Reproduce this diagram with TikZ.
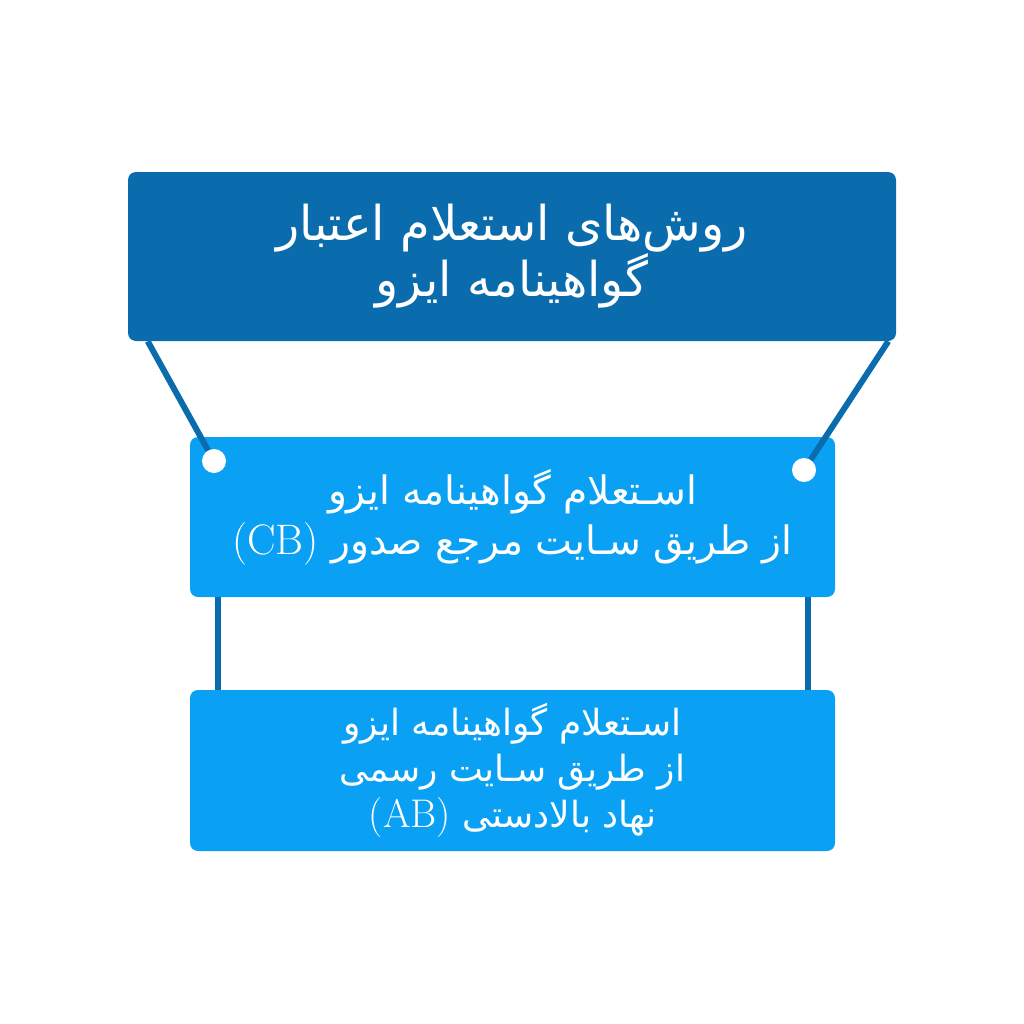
\documentclass[tikz,border=0pt]{standalone}
\usepackage{fontspec}
\newfontfamily\arabicfont[Script=Arabic]{DejaVu Sans}
\TeXXeTstate=1
\definecolor{isodark}{HTML}{0A6CAD}
\definecolor{isolight}{HTML}{0AA1F5}
\tikzset{
  box/.style={rounded corners=6pt, inner sep=0pt, text=white, align=center},
  link/.style={draw=isodark, line width=4.5pt},
  pin/.style={circle, fill=white, minimum size=18pt, inner sep=0pt},
}
\begin{document}
\begin{tikzpicture}[x=0.75pt, y=-0.75pt]
    \useasboundingbox (0,0) rectangle (1024,1024);
    \node[box, fill=isodark, minimum width=576pt, minimum height=126.75pt,
      font=\arabicfont\fontsize{36}{40}\selectfont] (head) at (512,256.5)
      {\beginR روش‌های استعلام اعتبار\endR\\\beginR گواهینامه ایزو\endR};
    \node[box, fill=isolight, minimum width=483.75pt, minimum height=120pt,
      font=\arabicfont\fontsize{29.4}{37.5}\selectfont] (cb) at (512.5,517)
      {\beginR اسـتعلام گواهینامه ایزو\endR\\\beginR از طریق سـایت مرجع صدور \beginL{\rmfamily\fontsize{32}{37.5}\selectfont (CB)}\endL\endR};
    \node[box, fill=isolight, minimum width=483.75pt, minimum height=120.75pt,
      font=\arabicfont\fontsize{27}{34.5}\selectfont] (ab) at (512.5,770.5)
      {\beginR اسـتعلام گواهینامه ایزو\endR\\\beginR از طریق سـایت رسمی\endR\\\beginR نهاد بالادستی \beginL{\rmfamily\fontsize{30}{34.5}\selectfont (AB)}\endL\endR};
    \node[pin] (pinl) at (214,461) {};
    \node[pin] (pinr) at (804,470) {};

    % اتصال‌ها
    \draw[link] ([xshift=15pt]head.south west) -- (pinl);
    \draw[link] ([xshift=-6pt]head.south east) -- (pinr);
    \draw[link] ([xshift=21pt]cb.south west) -- ([xshift=21pt]ab.north west);
    \draw[link] ([xshift=-20.25pt]cb.south east) -- ([xshift=-20.25pt]ab.north east);
\end{tikzpicture}
\end{document}
